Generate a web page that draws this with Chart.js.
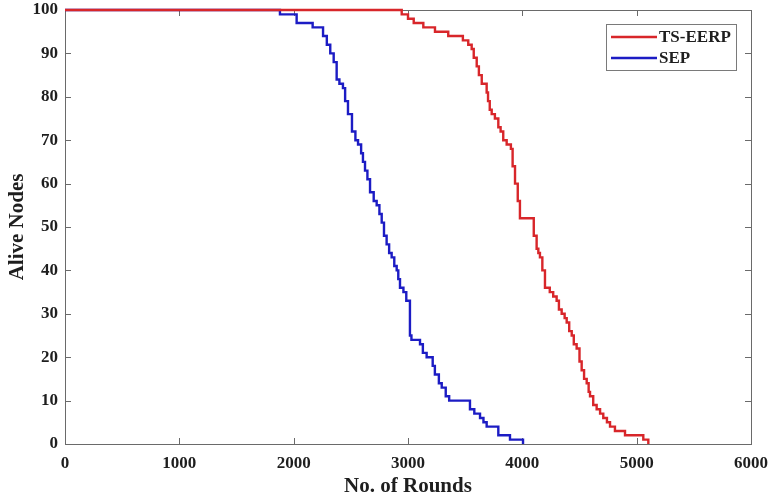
<!DOCTYPE html>
<html>
<head>
<meta charset="utf-8">
<script src="https://cdn.jsdelivr.net/npm/chart.js@4/dist/chart.umd.min.js"></script>
<style>
  html, body { margin: 0; padding: 0; background: #ffffff; }
  #wrap { width: 771px; height: 499px; }
</style>
</head>
<body>
<div id="wrap"><canvas id="c" width="771" height="499"></canvas></div>
<script>
// ---- data ----
const seriesNames = ['TS-EERP', 'SEP'];
const xTickValues = [0, 1000, 2000, 3000, 4000, 5000, 6000];
const yTickValues = [0, 10, 20, 30, 40, 50, 60, 70, 80, 90, 100];

const tsRounds = [0, 2945, 3000, 3050, 3134, 3236, 3352, 3480, 3527, 3557, 3575, 3601, 3620, 3645, 3688, 3700, 3715, 3732, 3760, 3790, 3810, 3833, 3863, 3900, 3915, 3936, 3960, 3979, 4100, 4125, 4140, 4154, 4175, 4198, 4240, 4270, 4300, 4320, 4344, 4370, 4388, 4410, 4432, 4450, 4475, 4500, 4519, 4540, 4563, 4580, 4592, 4620, 4650, 4680, 4708, 4740, 4767, 4810, 4898, 5058, 5102];
const tsAlive  = [100, 99, 98, 97, 96, 95, 94, 93, 92, 91, 89, 87, 85, 83, 81, 79, 77, 76, 75, 73, 72, 70, 69, 68, 64, 60, 56, 52, 48, 45, 44, 43, 40, 36, 35, 34, 33, 31, 30, 29, 28, 26, 25, 23, 22, 19, 17, 15, 14, 12, 11, 9, 8, 7, 6, 5, 4, 3, 2, 1, 0];

const sepRounds = [0, 1880, 2026, 2166, 2257, 2290, 2320, 2350, 2376, 2400, 2431, 2450, 2475, 2510, 2540, 2563, 2590, 2606, 2624, 2645, 2668, 2700, 2726, 2750, 2770, 2790, 2813, 2835, 2857, 2880, 2901, 2915, 2930, 2960, 2985, 3017, 3030, 3105, 3130, 3163, 3216, 3235, 3270, 3295, 3330, 3360, 3542, 3580, 3630, 3660, 3688, 3790, 3892, 4006];
const sepAlive  = [100, 99, 97, 96, 94, 92, 90, 88, 84, 83, 82, 79, 76, 72, 70, 69, 67, 65, 63, 61, 58, 56, 55, 53, 51, 48, 46, 44, 43, 41, 40, 38, 36, 35, 33, 25, 24, 23, 21, 20, 18, 16, 14, 13, 11, 10, 8, 7, 6, 5, 4, 2, 1, 0];

const seriesColors = ['#d8262a', '#1c1cc4'];

function toPoints(xs, ys) { return xs.map((x, i) => ({ x: x, y: ys[i] })); }

const FONT = "'Liberation Serif', 'Times New Roman', serif";
const AXIS_COLOR = '#6a6a6a';
const TEXT_COLOR = '#1e1e1e';

// box + inward ticks on all four sides
const boxPlugin = {
  id: 'boxPlugin',
  beforeDatasetsDraw(chart) {
    const { ctx, chartArea: a, scales } = chart;
    ctx.save();
    ctx.strokeStyle = AXIS_COLOR;
    ctx.lineWidth = 1;
    ctx.strokeRect(Math.round(a.left) + 0.5, Math.round(a.top) + 0.5, Math.round(a.right - a.left), Math.round(a.bottom - a.top));
    const tl = 6;
    ctx.beginPath();
    xTickValues.forEach(v => {
      const px = Math.round(scales.x.getPixelForValue(v)) + 0.5;
      ctx.moveTo(px, a.bottom); ctx.lineTo(px, a.bottom - tl);
      ctx.moveTo(px, a.top); ctx.lineTo(px, a.top + tl);
    });
    yTickValues.forEach(v => {
      const py = Math.round(scales.y.getPixelForValue(v)) + 0.5;
      ctx.moveTo(a.left, py); ctx.lineTo(a.left + tl, py);
      ctx.moveTo(a.right, py); ctx.lineTo(a.right - tl, py);
    });
    ctx.stroke();
    ctx.restore();
  }
};

// boxed legend inside the plot, top-right
const legendPlugin = {
  id: 'boxLegend',
  afterDraw(chart) {
    const { ctx, chartArea: a } = chart;
    const w = 130, h = 46;
    const x0 = a.right - 15 - w, y0 = a.top + 14;
    ctx.save();
    ctx.fillStyle = '#ffffff';
    ctx.fillRect(x0, y0, w, h);
    ctx.strokeStyle = '#7a7a7a';
    ctx.lineWidth = 1;
    ctx.strokeRect(Math.round(x0) + 0.5, Math.round(y0) + 0.5, w, h);
    ctx.font = 'bold 17px ' + FONT;
    ctx.textBaseline = 'middle';
    ctx.textAlign = 'left';
    chart.data.datasets.forEach((ds, i) => {
      const yy = y0 + 13 + i * 21;
      ctx.strokeStyle = ds.borderColor;
      ctx.lineWidth = 2.4;
      ctx.beginPath();
      ctx.moveTo(x0 + 5, yy); ctx.lineTo(x0 + 51, yy);
      ctx.stroke();
      ctx.fillStyle = TEXT_COLOR;
      ctx.fillText(ds.label, x0 + 53, yy + 1);
    });
    ctx.restore();
  }
};

const tickFont = { family: FONT, size: 17, weight: 'bold' };
const titleFont = { family: FONT, size: 21, weight: 'bold' };

new Chart(document.getElementById('c'), {
  type: 'line',
  data: {
    datasets: [
      { label: seriesNames[0], data: toPoints(tsRounds, tsAlive), borderColor: seriesColors[0], backgroundColor: seriesColors[0], borderWidth: 2.4, pointRadius: 0, stepped: 'before', fill: false, clip: 4 },
      { label: seriesNames[1], data: toPoints(sepRounds, sepAlive), borderColor: seriesColors[1], backgroundColor: seriesColors[1], borderWidth: 2.4, pointRadius: 0, stepped: 'before', fill: false, clip: 4 }
    ]
  },
  options: {
    responsive: false,
    animation: false,
    layout: { padding: { left: 0, top: 10, right: 20, bottom: 0 } },
    plugins: { legend: { display: false }, tooltip: { enabled: false } },
    scales: {
      x: {
        type: 'linear', min: 0, max: 6000,
        afterBuildTicks: (s) => { s.ticks = xTickValues.map(v => ({ value: v })); },
        afterFit: (s) => { s.height = 55; s.paddingLeft = 0; s.paddingRight = 0; s.paddingTop = 0; s.paddingBottom = 0; },
        grid: { display: false, drawTicks: false },
        border: { display: false },
        ticks: { padding: 9, color: TEXT_COLOR, font: tickFont, maxRotation: 0, callback: (v) => String(v) },
        title: { display: true, text: 'No. of Rounds', color: TEXT_COLOR, font: titleFont, padding: { top: 0, bottom: 0 } }
      },
      y: {
        type: 'linear', min: 0, max: 100,
        afterBuildTicks: (s) => { s.ticks = yTickValues.map(v => ({ value: v })); },
        afterFit: (s) => { s.width = 65; s.paddingLeft = 0; s.paddingRight = 0; s.paddingTop = 0; s.paddingBottom = 0; },
        grid: { display: false, drawTicks: false },
        border: { display: false },
        ticks: { padding: 7, color: TEXT_COLOR, font: tickFont, callback: (v) => String(v) },
        title: { display: true, text: 'Alive Nodes', color: TEXT_COLOR, font: titleFont, padding: { top: 5, bottom: 0 } }
      }
    }
  },
  plugins: [boxPlugin, legendPlugin]
});
</script>
</body>
</html>
